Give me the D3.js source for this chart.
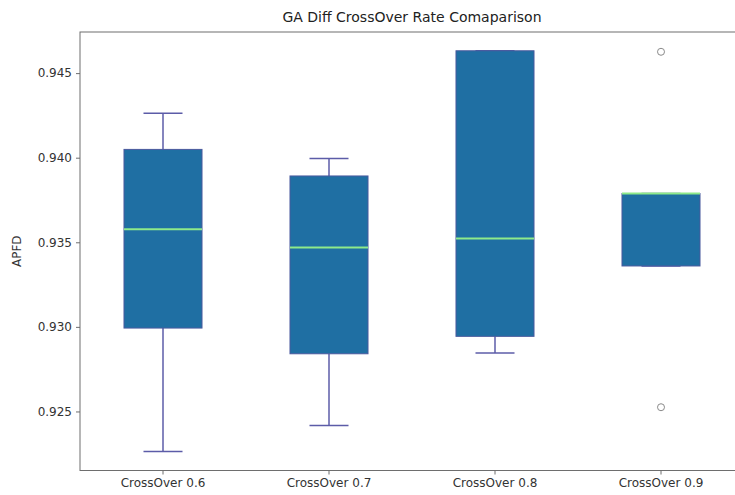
<!DOCTYPE html>
<html>
<head>
<meta charset="utf-8">
<script src="https://cdn.jsdelivr.net/npm/d3@7"></script>
<style>
  html, body { margin: 0; padding: 0; background: #fff; }
  svg { display: block; font-family: "DejaVu Sans", sans-serif; }
</style>
</head>
<body>
<svg id="chart" width="735" height="495"></svg>
<script>
// Box-plot summaries of APFD for each crossover rate
const categories  = ["CrossOver 0.6", "CrossOver 0.7", "CrossOver 0.8", "CrossOver 0.9"];
const whiskerLow  = [0.92263, 0.92417, 0.92845, 0.93360];
const q1          = [0.92993, 0.92841, 0.92944, 0.93360];
const median      = [0.93577, 0.93469, 0.93522, 0.93788];
const q3          = [0.94049, 0.93892, 0.94632, 0.93788];
const whiskerHigh = [0.94262, 0.93995, 0.94632, 0.93788];
const outliers    = [[], [], [], [0.94626, 0.92525]];
const yTicks      = [0.925, 0.930, 0.935, 0.940, 0.945];

const svg = d3.select("#chart");
const plotL = 80, plotR = 744, plotT = 32, plotB = 470.5;

const x = d3.scaleBand().domain(categories).range([plotL, plotR]).padding(0);
const y = d3.scaleLinear().domain([0.92151, 0.94743]).range([plotB, plotT]);

const boxW = x.bandwidth() * 0.47;
const capW = boxW / 2;
const cx = c => x(c) + x.bandwidth() / 2;

const stats = categories.map((c, i) => ({
  c, lo: whiskerLow[i], q1: q1[i], med: median[i], q3: q3[i], hi: whiskerHigh[i], out: outliers[i]
}));

const edge = "#5c5ca8";

const g = svg.append("g");

// whiskers and caps
stats.forEach(d => {
  const xc = cx(d.c);
  if (d.lo < d.q1) {
    g.append("line").attr("x1", xc).attr("x2", xc).attr("y1", y(d.q1)).attr("y2", y(d.lo))
      .attr("stroke", edge).attr("stroke-width", 1.5);
  }
  if (d.hi > d.q3) {
    g.append("line").attr("x1", xc).attr("x2", xc).attr("y1", y(d.q3)).attr("y2", y(d.hi))
      .attr("stroke", edge).attr("stroke-width", 1.5);
  }
  [d.lo, d.hi].forEach(v => {
    g.append("line").attr("x1", xc - capW / 2).attr("x2", xc + capW / 2)
      .attr("y1", y(v)).attr("y2", y(v))
      .attr("stroke", edge).attr("stroke-width", 1.5);
  });
});

// boxes
g.selectAll("rect.box").data(stats).join("rect")
  .attr("class", "box")
  .attr("x", d => cx(d.c) - boxW / 2)
  .attr("width", boxW)
  .attr("y", d => y(d.q3))
  .attr("height", d => y(d.q1) - y(d.q3))
  .attr("fill", "#1f6fa3")
  .attr("stroke", "#4a5a9e")
  .attr("stroke-width", 1);

// medians
g.selectAll("line.med").data(stats).join("line")
  .attr("class", "med")
  .attr("x1", d => cx(d.c) - boxW / 2)
  .attr("x2", d => cx(d.c) + boxW / 2)
  .attr("y1", d => y(d.med))
  .attr("y2", d => y(d.med))
  .attr("stroke", "#8eea8a")
  .attr("stroke-width", 2);

// fliers
stats.forEach(d => {
  g.selectAll(null).data(d.out).join("circle")
    .attr("cx", cx(d.c))
    .attr("cy", v => y(v))
    .attr("r", 3.5)
    .attr("fill", "none")
    .attr("stroke", "#8a8a8a")
    .attr("stroke-width", 1);
});

// frame
svg.append("rect")
  .attr("x", plotL).attr("y", plotT)
  .attr("width", plotR - plotL).attr("height", plotB - plotT)
  .attr("fill", "none").attr("stroke", "#6e6e6e").attr("stroke-width", 1);

// y axis
const yAxis = svg.append("g")
  .attr("transform", `translate(${plotL},0)`)
  .call(d3.axisLeft(y).tickValues(yTicks).tickFormat(d3.format(".3f")).tickSize(4).tickPadding(4));
yAxis.select(".domain").remove();
yAxis.selectAll(".tick line").attr("stroke", "#6e6e6e");
yAxis.selectAll(".tick text").attr("fill", "#333").attr("font-size", 12).attr("font-family", "DejaVu Sans");

// x axis
const xAxis = svg.append("g")
  .attr("transform", `translate(0,${plotB})`)
  .call(d3.axisBottom(x).tickSize(4).tickPadding(4));
xAxis.select(".domain").remove();
xAxis.selectAll(".tick line").attr("stroke", "#6e6e6e");
xAxis.selectAll(".tick text").attr("fill", "#333").attr("font-size", 12).attr("font-family", "DejaVu Sans");

// title
svg.append("text")
  .attr("x", (plotL + plotR) / 2).attr("y", 22)
  .attr("text-anchor", "middle")
  .attr("font-size", 14).attr("fill", "#222")
  .text("GA Diff CrossOver Rate Comaparison");

// y label
svg.append("text")
  .attr("transform", `translate(21,${(plotT + plotB) / 2}) rotate(-90)`)
  .attr("text-anchor", "middle")
  .attr("font-size", 12).attr("fill", "#333")
  .text("APFD");
</script>
</body>
</html>
